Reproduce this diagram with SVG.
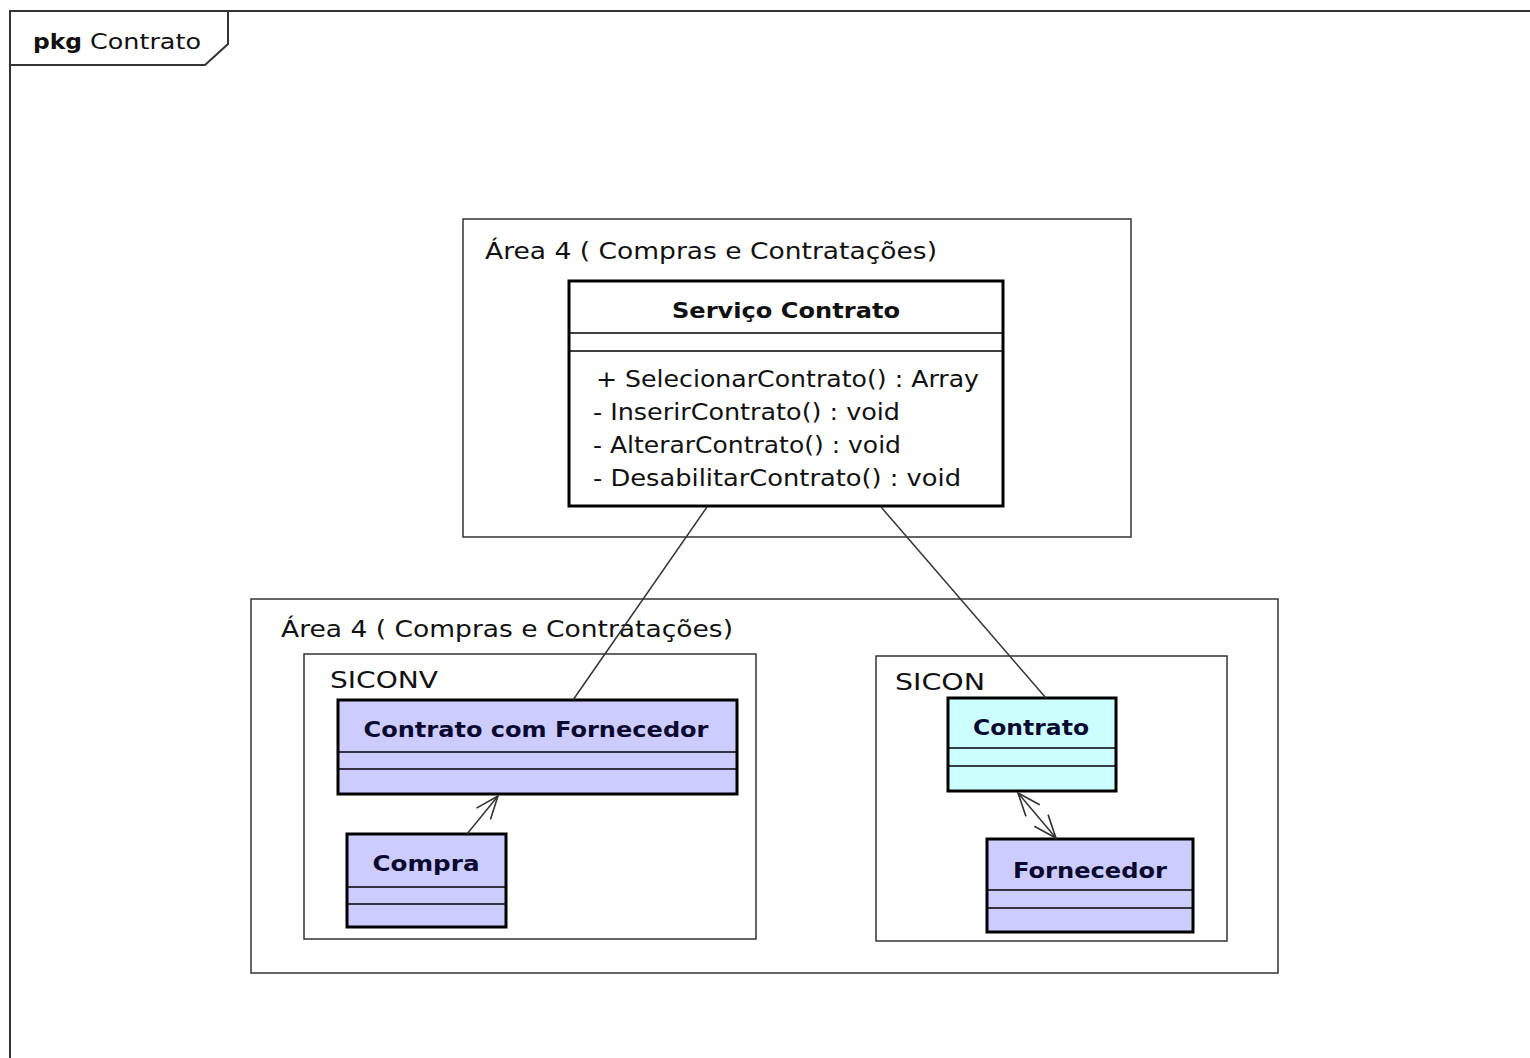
<svg xmlns="http://www.w3.org/2000/svg" width="1530" height="1058" viewBox="0 0 1530 1058">
<style>
text{font-family:"DejaVu Sans","Liberation Sans",Arial,sans-serif;fill:#111}
.frame{fill:none;stroke:#333;stroke-width:2}
.pkg{fill:#fff;stroke:#333;stroke-width:1.5}
.cls{stroke:#000;stroke-width:3}
.div{stroke:#000;stroke-width:1.5}
.lbl{font-size:23px}
.name{font-size:22px;font-weight:bold;text-anchor:middle;fill:#0a0a30}
.op{font-size:23px}
.conn{stroke:#333;stroke-width:1.5;fill:none}
</style>
<defs>
<marker id="open" viewBox="0 0 26 22" refX="24" refY="11" markerWidth="26" markerHeight="22" markerUnits="userSpaceOnUse" orient="auto">
<path d="M1,2 L24,11 L1,20" fill="none" stroke="#333" stroke-width="1.6"/>
</marker>
<marker id="openStart" viewBox="0 0 26 22" refX="2" refY="11" markerWidth="26" markerHeight="22" markerUnits="userSpaceOnUse" orient="auto">
<path d="M25,2 L2,11 L25,20" fill="none" stroke="#333" stroke-width="1.6"/>
</marker>
</defs>
<rect width="1530" height="1058" fill="#fff"/>
<g id="frame">
<path class="frame" d="M10,1060 L10,11 L1532,11"/>
<path class="frame" d="M10,11 L228,11 L228,44 L205,65 L10,65"/>
<text x="33" y="49" style="font-size:22px;font-weight:bold" textLength="49" lengthAdjust="spacingAndGlyphs">pkg</text>
<text x="90" y="49" style="font-size:22px" textLength="111" lengthAdjust="spacingAndGlyphs">Contrato</text>
</g>
<g id="area-top">
<rect class="pkg" x="463" y="219" width="668" height="318"/>
<text class="lbl" x="485" y="259" textLength="452" lengthAdjust="spacingAndGlyphs">Área 4 ( Compras e Contratações)</text>
</g>
<g id="area-bottom">
<rect class="pkg" x="251" y="599" width="1027" height="374"/>
<text class="lbl" x="281" y="637" textLength="452" lengthAdjust="spacingAndGlyphs">Área 4 ( Compras e Contratações)</text>
</g>
<g id="siconv">
<rect class="pkg" x="304" y="654" width="452" height="285"/>
<text class="lbl" x="330" y="688" textLength="108" lengthAdjust="spacingAndGlyphs">SICONV</text>
</g>
<g id="sicon">
<rect class="pkg" x="876" y="656" width="351" height="285"/>
<text class="lbl" x="895" y="690" textLength="90" lengthAdjust="spacingAndGlyphs">SICON</text>
</g>
<g id="servico-contrato">
<rect class="cls" x="569" y="281" width="434" height="225" fill="#fff"/>
<line class="div" x1="569" y1="333" x2="1003" y2="333"/>
<line class="div" x1="569" y1="351" x2="1003" y2="351"/>
<text class="name" x="786" y="318" style="fill:#111" textLength="228" lengthAdjust="spacingAndGlyphs">Serviço Contrato</text>
<text class="op" x="596" y="387" textLength="383" lengthAdjust="spacingAndGlyphs">+ SelecionarContrato() : Array</text>
<text class="op" x="593" y="420" textLength="307" lengthAdjust="spacingAndGlyphs">- InserirContrato() : void</text>
<text class="op" x="593" y="453" textLength="308" lengthAdjust="spacingAndGlyphs">- AlterarContrato() : void</text>
<text class="op" x="593" y="486" textLength="368" lengthAdjust="spacingAndGlyphs">- DesabilitarContrato() : void</text>
</g>
<g id="contrato-com-fornecedor">
<rect class="cls" x="338" y="700" width="399" height="94" fill="#ccccff"/>
<line class="div" x1="338" y1="752" x2="737" y2="752"/>
<line class="div" x1="338" y1="769" x2="737" y2="769"/>
<text class="name" x="536" y="737" textLength="345" lengthAdjust="spacingAndGlyphs">Contrato com Fornecedor</text>
</g>
<g id="compra">
<rect class="cls" x="347" y="834" width="159" height="93" fill="#ccccff"/>
<line class="div" x1="347" y1="887" x2="506" y2="887"/>
<line class="div" x1="347" y1="904" x2="506" y2="904"/>
<text class="name" x="426" y="871" textLength="107" lengthAdjust="spacingAndGlyphs">Compra</text>
</g>
<g id="contrato">
<rect class="cls" x="948" y="698" width="168" height="93" fill="#ccffff"/>
<line class="div" x1="948" y1="748" x2="1116" y2="748"/>
<line class="div" x1="948" y1="766" x2="1116" y2="766"/>
<text class="name" x="1031" y="735" textLength="116" lengthAdjust="spacingAndGlyphs">Contrato</text>
</g>
<g id="fornecedor">
<rect class="cls" x="987" y="839" width="206" height="93" fill="#ccccff"/>
<line class="div" x1="987" y1="890" x2="1193" y2="890"/>
<line class="div" x1="987" y1="908" x2="1193" y2="908"/>
<text class="name" x="1090" y="878" textLength="154" lengthAdjust="spacingAndGlyphs">Fornecedor</text>
</g>
<g id="connectors">
<line class="conn" x1="707" y1="507" x2="573" y2="700"/>
<line class="conn" x1="881" y1="507" x2="1046" y2="698"/>
<line class="conn" x1="467" y1="834" x2="498" y2="796" marker-end="url(#open)"/>
<line class="conn" x1="1018" y1="793" x2="1056" y2="838" marker-start="url(#openStart)" marker-end="url(#open)"/>
</g>
</svg>
